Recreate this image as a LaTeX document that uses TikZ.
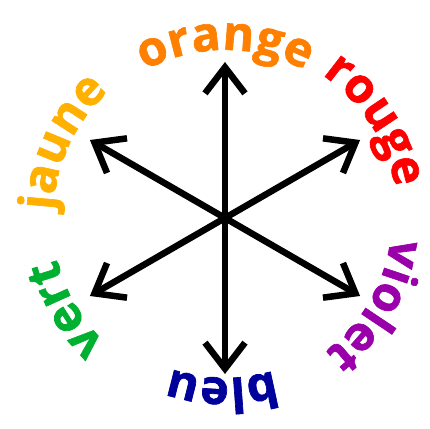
\documentclass[tikz,border=0pt]{standalone}
\usepackage{fontspec}
\setmainfont{Open Sans}[BoldFeatures={FakeBold=1.4}]
\usetikzlibrary{arrows.meta,decorations.text}
\definecolor{colorange}{RGB}{255,128,0}
\definecolor{colrouge}{RGB}{255,0,0}
\definecolor{colviolet}{RGB}{153,0,170}
\definecolor{colbleu}{RGB}{0,0,155}
\definecolor{colvert}{RGB}{0,176,48}
\definecolor{coljaune}{RGB}{255,176,0}
\newcommand{\labelfont}{\fontsize{48}{52}\selectfont\bfseries}

\begin{document}
\begin{tikzpicture}[x=1pt,y=1pt]
        \def\rlen{156}
        \useasboundingbox (-225,-210) rectangle (205,218);
        \coordinate (hub) at (0,0);
        % Arrows from the hub
        \foreach \a/\n in {90/orange,30/rouge,-30/violet,-90/bleu,-150/vert,150/jaune} {
          \coordinate (tip-\n) at (\a:\rlen);
          \draw[line width=6.5pt,-{Straight Barb[length=26pt,width=40pt]}] (hub) -- (tip-\n);
        }
        % Labels on the circle
        \foreach \a/\r/\n in {90/168/orange,33/173/rouge,-30/167/violet,-91/160/bleu,210/173/vert,155/172/jaune}
          \path[decorate,decoration={text along path,text align=center,
              text color=col\n,text/.expanded={|\noexpand\labelfont|\n}}]
            (\a+45:\r) arc[start angle=\a+45,end angle=\a-45,radius=\r];
      \end{tikzpicture}
\end{document}
